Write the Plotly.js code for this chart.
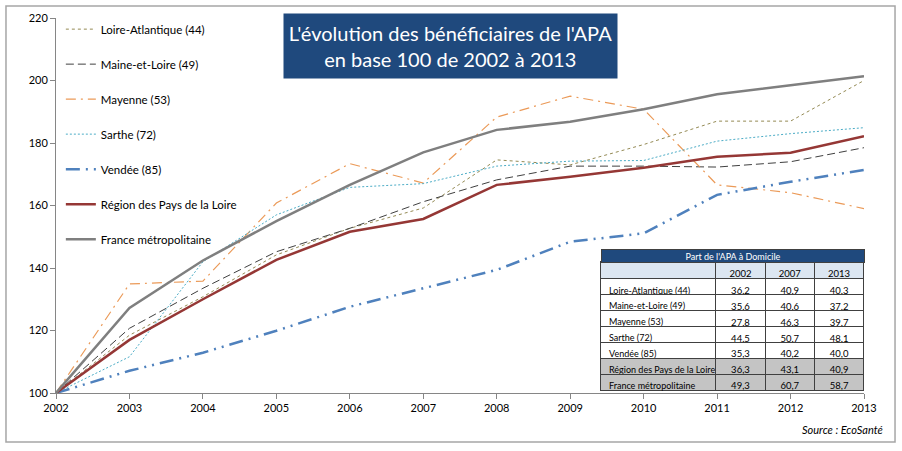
<!DOCTYPE html>
<html>
<head>
<meta charset="utf-8">
<script src="https://cdn.plot.ly/plotly-3.0.1.min.js"></script>
<style>
  body { margin: 0; background: #fff; }
  #chart { width: 902px; height: 451px; }
</style>
</head>
<body>
<div id="chart"></div>
<script>
// years on the x axis
var years = [2002, 2003, 2004, 2005, 2006, 2007, 2008, 2009, 2010, 2011, 2012, 2013];

// base 100 in 2002
var loireAtlantique = [100, 118.5, 130.8, 144.2, 152.7, 159.2, 174.6, 173.0, 179.5, 187.0, 187.0, 200.0];
var maineEtLoire    = [100, 120.7, 133.5, 145.2, 152.7, 161.2, 168.2, 172.6, 172.6, 172.3, 174.0, 178.5];
var mayenne         = [100, 134.9, 135.8, 160.8, 173.4, 167.2, 188.3, 195.0, 190.8, 166.6, 164.1, 159.0];
var sarthe          = [100, 111.6, 142.0, 157.0, 165.8, 167.0, 172.6, 174.2, 174.4, 180.6, 183.0, 184.9];
var vendee          = [100, 107.1, 112.9, 119.9, 127.6, 133.5, 139.4, 148.4, 151.1, 163.4, 167.6, 171.4];
var region          = [100, 117.0, 130.0, 142.6, 151.6, 155.7, 166.6, 169.2, 172.1, 175.6, 176.9, 182.2];
var france          = [100, 127.2, 142.4, 155.0, 166.6, 177.0, 184.2, 186.8, 190.8, 195.6, 198.5, 201.4];

// table "Part de l'APA à Domicile"
var tableRows  = ['Loire-Atlantique (44)', 'Maine-et-Loire (49)', 'Mayenne (53)', 'Sarthe (72)', 'Vendée (85)', 'Région des Pays de la Loire', 'France métropolitaine'];
var tableYears = ['2002', '2007', '2013'];
var part2002   = ['36,2', '35,6', '27,8', '44,5', '35,3', '36,3', '49,3'];
var part2007   = ['40,9', '40,6', '46,3', '50,7', '40,2', '43,1', '60,7'];
var part2013   = ['40,3', '37,2', '39,7', '48,1', '40,0', '40,9', '58,7'];

var FONT = 'Lato, "Open Sans", sans-serif';

function serie(name, ys, color, width, dash) {
  return {
    x: years, y: ys, name: name, type: 'scatter', mode: 'lines',
    legendgroup: name,
    line: { color: color, width: width, dash: dash }
  };
}

var traces = [
  serie('Loire-Atlantique (44)', loireAtlantique, '#948a54', 1, '3px,3px'),
  serie('Maine-et-Loire (49)', maineEtLoire, '#404040', 1, '8px,4px'),
  serie('Mayenne (53)', mayenne, '#eb9a58', 1.2, '10px,5px,2px,5px'),
  serie('Sarthe (72)', sarthe, '#4bacc6', 1, '2px,2px'),
  serie('Vendée (85)', vendee, '#4f81bd', 2.5, '14px,6px,2px,6px,2px,6px'),
  serie('Région des Pays de la Loire', region, '#953735', 2.5, 'solid'),
  serie('France métropolitaine', france, '#7f7f7f', 2.5, 'solid')
];

// cell colours: white rows, grey for the two last rows
var rowFill = tableRows.map(function (r, i) { return i >= 5 ? '#c4c4c4' : '#ffffff'; });
// no wrapping inside the first column
var rowLabels = tableRows.map(function (r) { return r.replace(/ /g, '\u00a0'); });

traces.push({
  type: 'table',
  domain: { x: [0.6745, 1.0], y: [0.0, 0.35] },
  columnwidth: [115, 50, 49, 50],
  header: {
    values: [''].concat(tableYears),
    height: 17,
    align: 'center',
    fill: { color: '#dce6f1' },
    line: { color: '#404040', width: 1 },
    font: { family: FONT, size: 9.5, color: '#000' }
  },
  cells: {
    values: [rowLabels, part2002, part2007, part2013],
    height: 15.9,
    align: ['left', 'center', 'center', 'center'],
    fill: { color: [rowFill, rowFill, rowFill, rowFill] },
    line: { color: '#404040', width: 1 },
    font: { family: FONT, size: [9, 9.5, 9.5, 9.5], color: '#000' }
  }
});

var layout = {
  width: 902, height: 451,
  margin: { l: 56, r: 38, t: 18, b: 58 },
  paper_bgcolor: '#fff', plot_bgcolor: '#fff',
  font: { family: FONT, size: 11, color: '#000' },
  showlegend: true,
  legend: {
    x: 0.006, y: 1.009, xanchor: 'left', yanchor: 'top',
    bgcolor: 'rgba(0,0,0,0)',
    tracegroupgap: 16,
    maxheight: 1,
    font: { family: FONT, size: 11.5, color: '#000' }
  },
  xaxis: {
    range: [2002, 2013], tickvals: years, ticktext: years.map(String),
    showgrid: false, zeroline: false,
    showline: true, linecolor: '#868686', linewidth: 1,
    ticks: 'outside', ticklen: 5, tickcolor: '#868686',
    tickfont: { size: 11 }
  },
  yaxis: {
    range: [100, 220], dtick: 20,
    showgrid: false, zeroline: false,
    showline: true, linecolor: '#868686', linewidth: 1,
    ticks: 'outside', ticklen: 5, tickcolor: '#868686',
    tickfont: { size: 11 }
  },
  shapes: [
    { type: 'rect', xref: 'paper', yref: 'paper',
      x0: -0.0619, x1: 1.0384, y0: -0.1307, y1: 1.032,
      line: { color: '#a6a6a6', width: 1.5 } }
  ],
  annotations: [
    { xref: 'paper', yref: 'paper', x: 0.488, y: 0.924,
      xanchor: 'center', yanchor: 'middle',
      text: "L'évolution des bénéficiaires de l'APA<br>en base 100 de 2002 à 2013",
      showarrow: false, bgcolor: '#1f497d', width: 331, height: 62,
      font: { family: FONT, size: 20, color: '#fff' } },
    { xref: 'paper', yref: 'paper', x: 0.8383, y: 0.3653,
      xanchor: 'center', yanchor: 'middle',
      text: "Part de l'APA à Domicile",
      showarrow: false, bgcolor: '#1f497d', width: 262, height: 12,
      bordercolor: '#404040', borderwidth: 1, borderpad: 0,
      font: { family: FONT, size: 9, color: '#fff' } },
    { xref: 'paper', yref: 'paper', x: 1.026, y: -0.097,
      xanchor: 'right', yanchor: 'middle',
      text: '<i>Source : EcoSanté</i>', showarrow: false,
      font: { family: FONT, size: 11, color: '#000' } }
  ]
};

Plotly.newPlot('chart', traces, layout, { displayModeBar: false, staticPlot: true });
</script>
</body>
</html>
